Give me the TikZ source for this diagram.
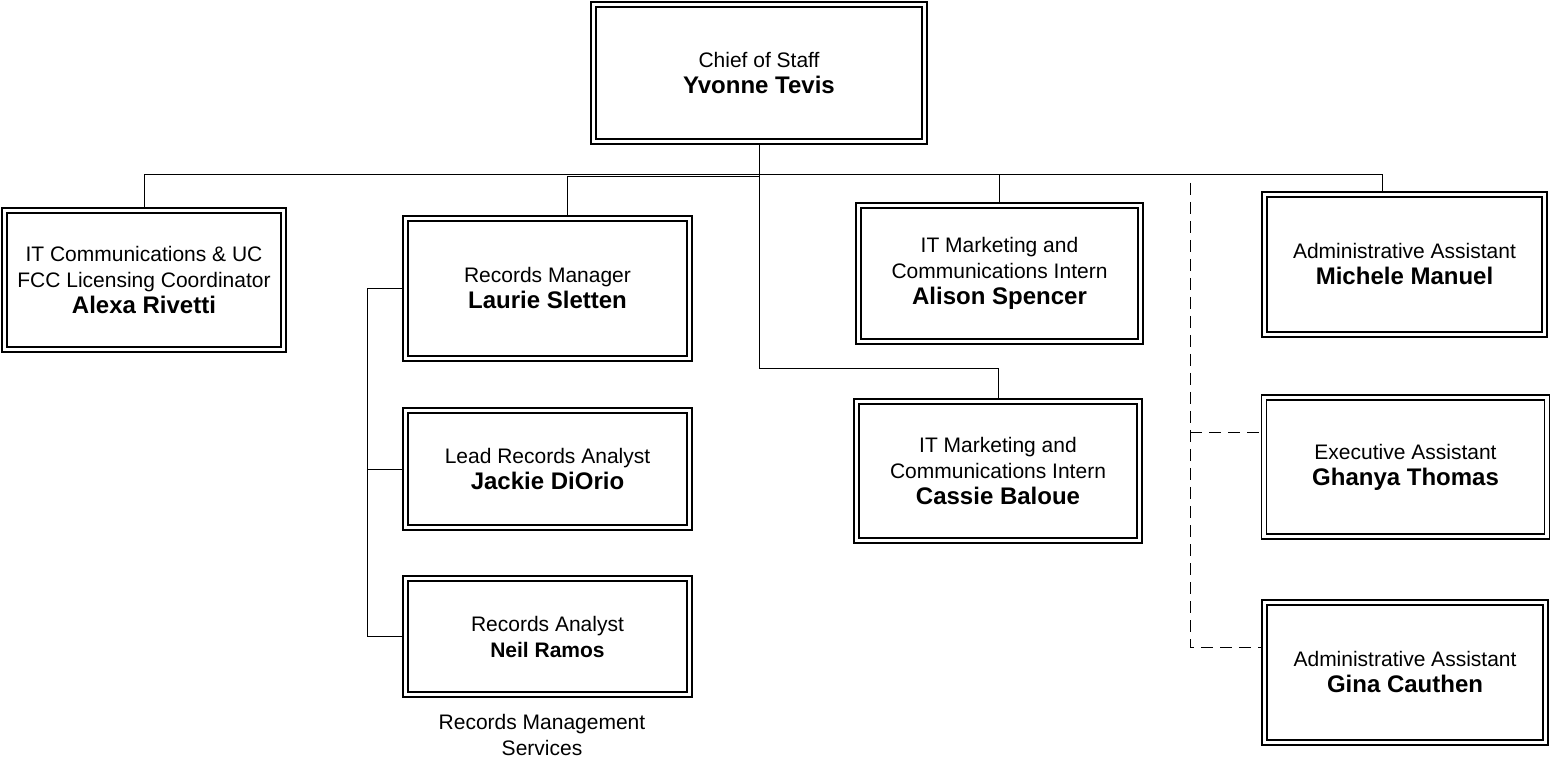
\documentclass[tikz,border=0pt]{standalone}
\usepackage{fontspec}
\setmainfont{Liberation Sans}
\usetikzlibrary{positioning, backgrounds}

\newcommand{\staffname}[1]{{\fontsize{12}{13}\selectfont\bfseries #1}}

\begin{document}
\begin{tikzpicture}[x=0.5pt, y=-0.5pt, line width=0.8pt,
	post/.style={draw, rectangle, double, double distance=1.7pt, fill=white, inner sep=0pt, align=center, font=\fontsize{10.5}{13}\selectfont},
	assist/.style={dash pattern=on 6pt off 3.5pt}]
		\useasboundingbox (0,0) rectangle (1551,758);
		%boxes
		\node[post, minimum width=165.5pt, minimum height=68.5pt] (chief) at (759,73) {Chief of Staff\\\staffname{Yvonne Tevis}};
		\node[post, minimum width=139.5pt, minimum height=69.5pt] (alexa) at (144,280) {IT Communications \& UC\\FCC Licensing Coordinator\\\staffname{Alexa Rivetti}};
		\node[post, minimum width=142pt, minimum height=70pt] (laurie) at (547.5,288.5) {Records Manager\\\staffname{Laurie Sletten}};
		\node[post, minimum width=142pt, minimum height=58.5pt] (jackie) at (547.5,469) {Lead Records Analyst\\\staffname{Jackie DiOrio}};
		\node[post, minimum width=142pt, minimum height=58pt] (neil) at (547.5,636.5) {Records Analyst\\{\bfseries Neil Ramos}};
		\node[post, minimum width=141pt, minimum height=68pt] (alison) at (999.5,273.5) {IT Marketing and\\Communications Intern\\\staffname{Alison Spencer}};
		\node[post, minimum width=141.5pt, minimum height=69.5pt] (cassie) at (998,471) {IT Marketing and\\Communications Intern\\\staffname{Cassie Baloue}};
		\node[post, minimum width=140pt, minimum height=70pt] (michele) at (1404.5,264.5) {Administrative Assistant\\\staffname{Michele Manuel}};
		\node[post, minimum width=141.5pt, minimum height=69.5pt] (ghanya) at (1405.5,467) {Executive Assistant\\\staffname{Ghanya Thomas}};
		\node[post, minimum width=140.5pt, minimum height=70pt] (gina) at (1405,672.5) {Administrative Assistant\\\staffname{Gina Cauthen}};
		\node[align=center, font=\fontsize{10.5}{13}\selectfont] (rms) at (542,735) {Records Management\\Services};
		%lines
		\begin{scope}[on background layer]
		\draw (alexa.north) -- (alexa.north |- 0,174) -- (1382,174) -- (1382,0 |- michele.north);
		\draw (chief.south) -- (chief.south |- 0,368) -| (cassie.north);
		\draw (chief.south |- 0,176) -| (567,0 |- laurie.north);
		\draw (alison.north) -- (alison.north |- 0,174);
		\draw (laurie.west) -- (367,0 |- laurie.west) -- (367,0 |- neil.west) -- (neil.west);
		\draw (jackie.west) -- (367,0 |- jackie.west);
		\draw[assist] (1190,183) -- (1190,647) -- (gina.west |- 0,647);
		\draw[assist] (1190,432) -- (ghanya.west |- 0,432);
		\end{scope}
\end{tikzpicture}
\end{document}
